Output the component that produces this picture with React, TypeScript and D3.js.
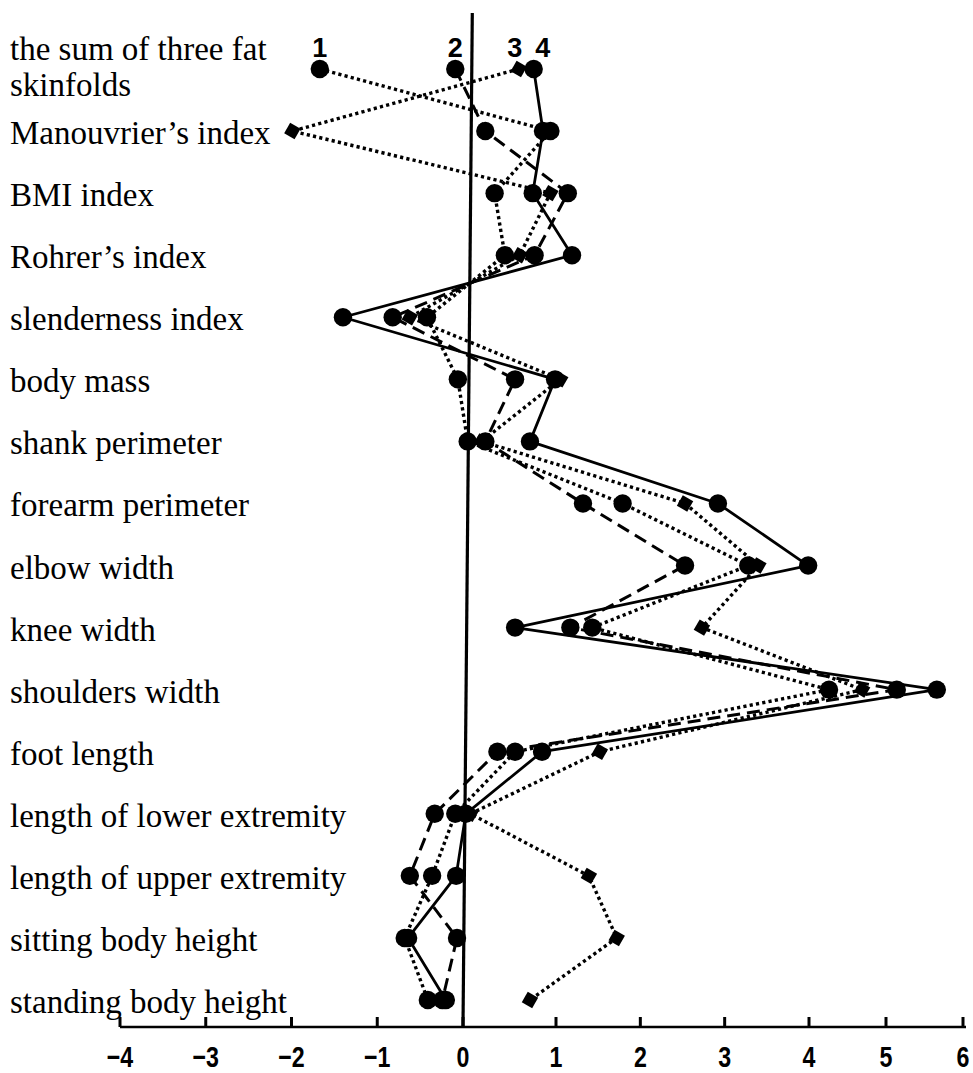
import React from "react";
import * as d3 from "d3";

// ---------- data ----------
const categories: string[] = [
  "the sum of three fat\nskinfolds",
  "Manouvrier’s index",
  "BMI index",
  "Rohrer’s index",
  "slenderness index",
  "body mass",
  "shank perimeter",
  "forearm perimeter",
  "elbow width",
  "knee width",
  "shoulders width",
  "foot length",
  "length of lower extremity",
  "length of upper extremity",
  "sitting body height",
  "standing body height",
];

const series1: number[] = [-1.67, 0.94, 0.34, 0.45, -0.42, -0.06, 0.05, 1.79, 3.28, 1.43, 4.26, 0.56, -0.09, -0.36, -0.68, -0.41];
const series2: number[] = [-0.09, 0.24, 1.14, 0.77, -0.82, 0.56, 0.24, 1.32, 2.53, 1.17, 5.14, 0.37, -0.33, -0.62, -0.07, -0.24];
const series3: number[] = [0.6, -1.99, 0.94, 0.61, -0.62, 1.05, 0.2, 2.53, 3.4, 2.73, 4.69, 1.52, 0.08, 1.39, 1.72, 0.72];
const series4: number[] = [0.76, 0.86, 0.75, 1.19, -1.4, 0.99, 0.72, 2.92, 3.99, 0.56, 5.66, 0.85, 0.03, -0.08, -0.64, -0.2];

const seriesLabels: string[] = ["1", "2", "3", "4"];
const xTickValues: number[] = [-4, -3, -2, -1, 0, 1, 2, 3, 4, 5, 6];
const zeroLineTopValue = 0.1;
const zeroLineBottomValue = 0;

// ---------- layout / style ----------
const W = 973;
const H = 1073;
const axisY = 1027;
const zeroTop = 13;

type Style = { dash: string; width: number; marker: "circle" | "diamond"; labelDx: number };
const styles: Style[] = [
  { dash: "3.2,3.2", width: 3.4, marker: "circle", labelDx: 0 },
  { dash: "13,7", width: 3, marker: "circle", labelDx: 0 },
  { dash: "3.2,3.2", width: 3.4, marker: "diamond", labelDx: -4 },
  { dash: "none", width: 2.8, marker: "circle", labelDx: 9 },
];

export default function App() {
  const x = d3.scaleLinear().domain([-4, 0, 1, 4, 6]).range([120, 463, 556, 809, 963]);
  const y = d3.scalePoint<string>().domain(categories).range([69, 1000]);

  const allSeries = [series1, series2, series3, series4];
  const line = d3
    .line<number>()
    .x((d) => x(d))
    .y((_, i) => y(categories[i]) as number);

  const serif = "'Liberation Serif', 'Times New Roman', serif";
  const sans = "'Liberation Sans', Arial, sans-serif";

  return (
    <svg
      width={W}
      height={H}
      style={{ position: "absolute", left: 0, top: 0, background: "#fff" }}
    >
      <rect x={0} y={0} width={W} height={H} fill="#fff" />
      {/* category labels */}
      {categories.map((c) => {
        const lines = c.split("\n");
        const cy = y(c) as number;
        return (
          <text key={c} x={10} fontFamily={serif} fontSize={33} fill="#000">
            {lines.map((l, j) => (
              <tspan key={j} x={10} y={cy + 2 - (lines.length - 1) * 22 + j * 36} dominantBaseline="central">
                {l}
              </tspan>
            ))}
          </text>
        );
      })}

      {/* zero line */}
      <line
        x1={x(zeroLineTopValue)}
        y1={zeroTop}
        x2={x(zeroLineBottomValue)}
        y2={axisY}
        stroke="#000"
        strokeWidth={3.2}
      />

      {/* x axis */}
      <line x1={x(-4)} x2={x(6) + 3} y1={axisY} y2={axisY} stroke="#000" strokeWidth={2.5} />
      {xTickValues.map((t) => (
        <g key={t}>
          <line x1={x(t)} x2={x(t)} y1={axisY} y2={axisY - 10} stroke="#000" strokeWidth={3} />
          <text
            transform={`translate(${x(t)},1067) scale(0.8,1)`}
            textAnchor="middle"
            fontFamily={sans}
            fontWeight="bold"
            fontSize={29}
            fill="#000"
          >
            {t < 0 ? "\u2212" + Math.abs(t) : String(t)}
          </text>
        </g>
      ))}

      {/* series lines */}
      {allSeries.map((s, k) => (
        <path
          key={"l" + k}
          d={line(s) as string}
          fill="none"
          stroke="#000"
          strokeWidth={styles[k].width}
          strokeDasharray={styles[k].dash}
          strokeLinejoin="round"
        />
      ))}

      {/* markers */}
      {allSeries.map((s, k) =>
        s.map((v, i) => {
          const cx = x(v);
          const cy = y(categories[i]) as number;
          if (styles[k].marker === "circle") {
            return <circle key={`m${k}-${i}`} cx={cx} cy={cy} r={9.2} fill="#000" />;
          }
          return (
            <rect
              key={`m${k}-${i}`}
              x={-6}
              y={-6}
              width={12}
              height={12}
              fill="#000"
              transform={`translate(${cx},${cy}) rotate(30)`}
            />
          );
        })
      )}

      {/* series number labels */}
      {allSeries.map((s, k) => (
        <text
          key={"n" + k}
          x={x(s[0]) + styles[k].labelDx}
          y={57}
          textAnchor="middle"
          fontFamily={sans}
          fontWeight="bold"
          fontSize={27}
          fill="#000"
        >
          {seriesLabels[k]}
        </text>
      ))}
    </svg>
  );
}
